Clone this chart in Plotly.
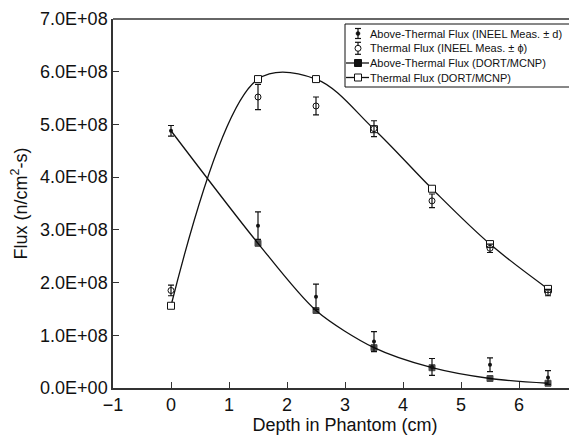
import plotly.graph_objects as go

depth = [0, 1.5, 2.5, 3.5, 4.5, 5.5, 6.5]

above_meas = [4.88e8, 3.08e8, 1.73e8, 0.88e8, 0.40e8, 0.44e8, 0.20e8]
above_err = [0.10e8, 0.26e8, 0.24e8, 0.19e8, 0.16e8, 0.13e8, 0.13e8]

thermal_meas = [1.85e8, 5.52e8, 5.35e8, 4.92e8, 3.55e8, 2.65e8, 1.81e8]
thermal_err = [0.10e8, 0.24e8, 0.17e8, 0.15e8, 0.13e8, 0.08e8, 0.06e8]

above_dort = [4.88e8, 2.745e8, 1.47e8, 0.765e8, 0.385e8, 0.18e8, 0.09e8]
above_dort_marker = [0, 6, 6, 6, 6, 6, 6]
thermal_dort = [1.56e8, 5.86e8, 5.86e8, 4.91e8, 3.78e8, 2.73e8, 1.88e8]

ytick_vals = [0, 1e8, 2e8, 3e8, 4e8, 5e8, 6e8, 7e8]
ytick_text = ["0.0E+00", "1.0E+08", "2.0E+08", "3.0E+08", "4.0E+08", "5.0E+08", "6.0E+08", "7.0E+08"]
xtick_vals = [-1, 0, 1, 2, 3, 4, 5, 6, 7]
xtick_text = ["\u22121", "0", "1", "2", "3", "4", "5", "6", "7"]

legend_labels = [
    "Above-Thermal Flux (INEEL Meas. \u00b1 d)",
    "Thermal Flux (INEEL Meas. \u00b1 \u03d5)",
    "Above-Thermal Flux (DORT/MCNP)",
    "Thermal Flux (DORT/MCNP)",
]

ink = "#111111"
axis_ink = "#333333"
font = "Liberation Sans, Arial, Helvetica, sans-serif"

fig = go.Figure()

fig.add_trace(go.Scatter(
    x=depth, y=above_dort, mode="lines+markers", name=legend_labels[2],
    line=dict(color=ink, width=1.3, shape="spline", smoothing=0.8),
    marker=dict(symbol="square", size=above_dort_marker, color="black",
                line=dict(width=1, color="black"))))
fig.add_trace(go.Scatter(
    x=depth, y=thermal_dort, mode="lines+markers", name=legend_labels[3],
    line=dict(color=ink, width=1.3, shape="spline", smoothing=1.0),
    marker=dict(symbol="square", size=7, color="white", line=dict(color=ink, width=1))))
fig.add_trace(go.Scatter(
    x=depth, y=above_meas, mode="markers", name=legend_labels[0],
    marker=dict(symbol="circle", size=4, color=ink),
    error_y=dict(type="data", array=above_err, visible=True, color=ink, thickness=1.2, width=3)))
fig.add_trace(go.Scatter(
    x=depth, y=thermal_meas, mode="markers", name=legend_labels[1],
    marker=dict(symbol="circle-open", size=6, color=ink, line=dict(width=1)),
    error_y=dict(type="data", array=thermal_err, visible=True, color=ink, thickness=1.2, width=3)))

# ---- hand-drawn legend box (layout decoration) ----
# plot area in page pixels (page body has an 8px margin)
L, T, W, H = 113, 19, 464, 369


def px(xp):
    return (xp - L) / W


def py(yp):
    return (T + H - yp) / H


shapes = []
annotations = []
shapes.append(dict(type="rect", xref="paper", yref="paper",
                   x0=px(345), x1=px(576), y0=py(87), y1=py(24),
                   line=dict(color=ink, width=1), fillcolor="white", layer="above"))
row_y = [33.5, 48.3, 63.0, 77.5]
gx = px(358)
for i, (lab, ry) in enumerate(zip(legend_labels, row_y)):
    yy = py(ry)
    annotations.append(dict(text=lab, xref="paper", yref="paper", x=px(369), y=yy,
                            xanchor="left", yanchor="middle", showarrow=False,
                            borderpad=0, font=dict(size=11, family=font, color=ink)))
    if i in (0, 1):
        half = 5 if i == 0 else 6
        shapes.append(dict(type="line", xref="paper", yref="paper", ysizemode="pixel",
                           yanchor=yy, x0=gx, x1=gx, y0=-half, y1=half,
                           line=dict(color=ink, width=1.2), layer="above"))
        for s in (-half, half):
            shapes.append(dict(type="line", xref="paper", yref="paper",
                               xsizemode="pixel", ysizemode="pixel", xanchor=gx, yanchor=yy,
                               x0=-3, x1=3, y0=s, y1=s,
                               line=dict(color=ink, width=1.2), layer="above"))
        if i == 0:
            shapes.append(dict(type="circle", xref="paper", yref="paper",
                               xsizemode="pixel", ysizemode="pixel", xanchor=gx, yanchor=yy,
                               x0=-2, x1=2, y0=-2, y1=2, fillcolor=ink,
                               line=dict(color=ink, width=0.5), layer="above"))
        else:
            shapes.append(dict(type="circle", xref="paper", yref="paper",
                               xsizemode="pixel", ysizemode="pixel", xanchor=gx, yanchor=yy,
                               x0=-3, x1=3, y0=-3, y1=3, fillcolor="white",
                               line=dict(color=ink, width=1), layer="above"))
    else:
        shapes.append(dict(type="line", xref="paper", yref="paper",
                           x0=px(346), x1=px(369), y0=yy, y1=yy,
                           line=dict(color=ink, width=1.3), layer="above"))
        shapes.append(dict(type="rect", xref="paper", yref="paper",
                           xsizemode="pixel", ysizemode="pixel", xanchor=gx, yanchor=yy,
                           x0=-3.5, x1=3.5, y0=-3.5, y1=3.5,
                           fillcolor=(ink if i == 2 else "white"),
                           line=dict(color=ink, width=1), layer="above"))

# top border of the frame
shapes.append(dict(type="line", xref="paper", yref="paper", x0=0, x1=1, y0=1, y1=1,
                   line=dict(color=axis_ink, width=1.5)))

fig.update_layout(
    width=569, height=430,
    margin=dict(l=105, r=0, t=11, b=50),
    paper_bgcolor="white", plot_bgcolor="white",
    font=dict(family=font, size=18, color=ink),
    showlegend=False,
    shapes=shapes, annotations=annotations,
    xaxis=dict(range=[-1, 7], tickvals=xtick_vals, ticktext=xtick_text, automargin=False,
               showgrid=False, zeroline=False, showline=True, linecolor=axis_ink, linewidth=1.5,
               ticks="inside", ticklen=6, tickcolor=axis_ink, tickfont=dict(size=18),
               title=dict(text="Depth in Phantom (cm)", font=dict(size=18), standoff=4)),
    yaxis=dict(range=[0, 7e8], tickvals=ytick_vals, ticktext=ytick_text, automargin=False,
               showgrid=False, zeroline=False, showline=True, linecolor=axis_ink, linewidth=1.5,
               ticks="inside", ticklen=6, tickcolor=axis_ink, tickfont=dict(size=18),
               title=dict(text="Flux (n/cm<sup>2</sup>-s)", font=dict(size=18), standoff=9)),
)

fig.write_html("out.html")
